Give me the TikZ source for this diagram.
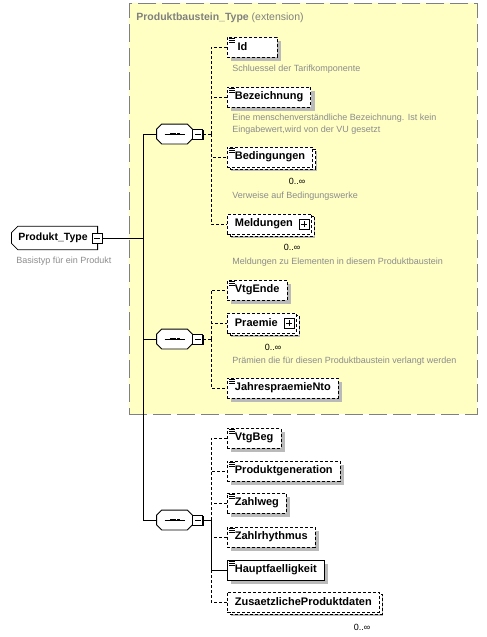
\documentclass[tikz,border=0pt]{standalone}
\usepackage{fontspec}
\setmainfont{Liberation Sans}
\usepackage{xcolor}
\usetikzlibrary{shapes.misc,shadows}
\definecolor{extyellow}{HTML}{FFFFC4}
\definecolor{extgray}{HTML}{808080}
\definecolor{descgray}{HTML}{8C8C8C}
\newcommand{\elemfont}{\fontsize{11}{13}\selectfont\bfseries}
\newcommand{\titlefont}{\fontsize{10.5}{12}\selectfont\bfseries}
\newcommand{\descfont}{\fontsize{9}{12}\selectfont}
% octagon of a sequence compositor round a named node
\newcommand{\octopath}[1]{([xshift=5pt]#1.north west) -- ([xshift=-5pt]#1.north east) -- ([yshift=-5pt]#1.north east)
  -- ([yshift=5pt]#1.south east) -- ([xshift=-5pt]#1.south east) -- ([xshift=5pt]#1.south west)
  -- ([yshift=5pt]#1.south west) -- ([yshift=-5pt]#1.north west) -- cycle}
\newcommand{\seqoutline}[1]{%
  \fill[black!27, shift={(3pt,-3pt)}] \octopath{#1};
  \draw[fill=white] \octopath{#1};
  \draw[line width=1pt] ([xshift=-10pt]#1.center) -- ([xshift=10pt]#1.center);
  \foreach \d in {-5,-1.5,2} \fill ([xshift=\d pt,yshift=-1.25pt]#1.center) rectangle ++(3pt,2.5pt);}

\tikzset{
  elem/.style={draw, fill=white, dash pattern=on 3pt off 2pt, font=\elemfont, anchor=west,
    inner xsep=7.5pt, inner ysep=0pt, minimum height=20pt, minimum width=50pt,
    drop shadow={shadow xshift=4pt, shadow yshift=-4pt, fill=black!27, opacity=1}},
  must/.style={solid},
  multi/.style={copy shadow={shadow xshift=3pt, shadow yshift=-2pt, draw=black, fill=white,
    line width=0.8pt, dash pattern=on 3pt off 2pt}},
  simple/.style={path picture={\foreach \k in {1.5,3.5,5.5}
    \draw[solid, line width=0.7pt] ([xshift=2pt,yshift=-\k pt]path picture bounding box.north west) -- ++(6pt,0);}},
  seqbox/.style={rectangle, minimum width=35pt, minimum height=19pt, inner sep=0pt},
  topbox/.style={chamfered rectangle, chamfered rectangle corners={north west,south west},
    chamfered rectangle xsep=3pt, draw, fill=white, font=\titlefont, anchor=west,
    minimum height=21pt, inner xsep=4pt},
  pmbox/.style={draw, solid, fill=white, minimum size=10pt, inner sep=0pt,
    drop shadow={shadow xshift=1pt, shadow yshift=-1pt, fill=black, opacity=1}},
  minusbox/.style={pmbox, anchor=west, path picture={
    \draw[black] ([xshift=2pt]path picture bounding box.west) -- ([xshift=-2pt]path picture bounding box.east);}},
  plusbox/.style={pmbox, anchor=east, path picture={
    \draw[black] ([xshift=2pt]path picture bounding box.west) -- ([xshift=-2pt]path picture bounding box.east);
    \draw[black] ([yshift=2pt]path picture bounding box.south) -- ([yshift=-2pt]path picture bounding box.north);}},
  extbox/.style={draw=extgray, fill=extyellow, dash pattern=on 18pt off 6pt, anchor=north west, inner sep=0pt},
  desc/.style={font=\descfont, text=descgray, anchor=west, inner sep=0pt, align=left},
  mult/.style={font=\descfont, inner sep=0pt},
  link/.style={draw},
  optlink/.style={draw, dash pattern=on 3pt off 2pt}
}

\begin{document}
\begin{tikzpicture}[x=1pt, y=-1pt, line width=0.8pt]
    \useasboundingbox (0,0) rectangle (487,637);

    % extension
    \node[extbox, minimum width=348pt, minimum height=411pt] (ext) at (129,3) {};
    \node[anchor=west, text=extgray, font=\titlefont, inner sep=0pt] (exttitle) at (136,18)
        {Produktbaustein\_Type \textmd{(extension)}};

    % root type
    \node[topbox] (pt) at (11,238) {Produkt\_Type\kern3pt};
    \node[minusbox, anchor=center] (ptm) at ([xshift=-1pt]pt.east) {};
    \node[desc] (ptdesc) at (16,261) {Basistyp für ein Produkt};
    \coordinate (spine) at (143,238);

    % sequences
    \node[seqbox] (seqA) at (174.5,134) {};
    \seqoutline{seqA}
    \node[minusbox] (seqAm) at (seqA.east) {};
    \node[seqbox] (seqB) at (174.5,339) {};
    \seqoutline{seqB}
    \node[minusbox] (seqBm) at (seqB.east) {};
    \node[seqbox] (seqC) at (174.5,520) {};
    \seqoutline{seqC}
    \node[minusbox] (seqCm) at (seqC.east) {};
    \coordinate (busA) at (211,134);
    \coordinate (busB) at (211,339);
    \coordinate (busC) at (211,520);

    % first sequence
    \node[elem, simple] (id) at (227,47) {Id\kern20pt};
    \node[desc] (iddesc) at (232,69) {Schluessel der Tarifkomponente};
    \node[elem, simple] (bez) at (227,97) {Bezeichnung};
    \node[desc] (bezdesc) at (232,124) {Eine menschenverständliche Bezeichnung. Ist kein\\Eingabewert,wird von der VU gesetzt};
    \node[elem, simple, multi] (bed) at (227,157) {Bedingungen};
    \node[mult] (bedmult) at (297,181) {0..∞};
    \node[desc] (beddesc) at (232,196) {Verweise auf Bedingungswerke};
    \node[elem, multi] (meld) at (227,224) {Meldungen\kern11pt};
    \node[plusbox] (meldp) at ([xshift=-2pt]meld.east) {};
    \node[mult] (meldmult) at (292,247) {0..∞};
    \node[desc] (melddesc) at (232,262) {Meldungen zu Elementen in diesem Produktbaustein};

    % second sequence
    \node[elem, simple] (vtgende) at (227,290) {VtgEnde};
    \node[elem, multi] (praemie) at (227,323) {Praemie\kern11pt};
    \node[plusbox] (praemiep) at ([xshift=-2pt]praemie.east) {};
    \node[mult] (praemiemult) at (273,347) {0..∞};
    \node[desc] (praemiedesc) at (232,361) {Prämien die für diesen Produktbaustein verlangt werden};
    \node[elem, simple] (jahr) at (227,388) {JahrespraemieNto};

    % third sequence
    \node[elem, simple] (vtgbeg) at (227,438) {VtgBeg};
    \node[elem, simple] (prodgen) at (227,471) {Produktgeneration};
    \node[elem, simple] (zahlweg) at (227,503) {Zahlweg};
    \node[elem, simple] (zahlrh) at (227,537) {Zahlrhythmus};
    \node[elem, simple, must] (haupt) at (227,570) {Hauptfaelligkeit};
    \node[elem, multi] (zus) at (227,602) {ZusaetzlicheProduktdaten};
    \node[mult] (zusmult) at (362,627) {0..∞};

    % connectors
    \draw[link] (ptm.east) -- (spine);
    \draw[link] (spine) |- (seqA.west);
    \draw[link] (spine) |- (seqB.west);
    \draw[link] (spine) |- (seqC.west);
    \draw[optlink] (seqAm.east) -- (busA);
    \foreach \e in {id,bez,bed,meld} \draw[optlink] (busA) |- (\e.west);
    \draw[optlink] (seqBm.east) -- (busB);
    \foreach \e in {vtgende,praemie,jahr} \draw[optlink] (busB) |- (\e.west);
    \foreach \e in {vtgbeg,prodgen,zahlweg,zahlrh,zus} \draw[optlink] (busC) |- (\e.west);
    \draw[link] (seqCm.east) -- (busC);
    \draw[link] (busC) |- (haupt.west);
\end{tikzpicture}
\end{document}
